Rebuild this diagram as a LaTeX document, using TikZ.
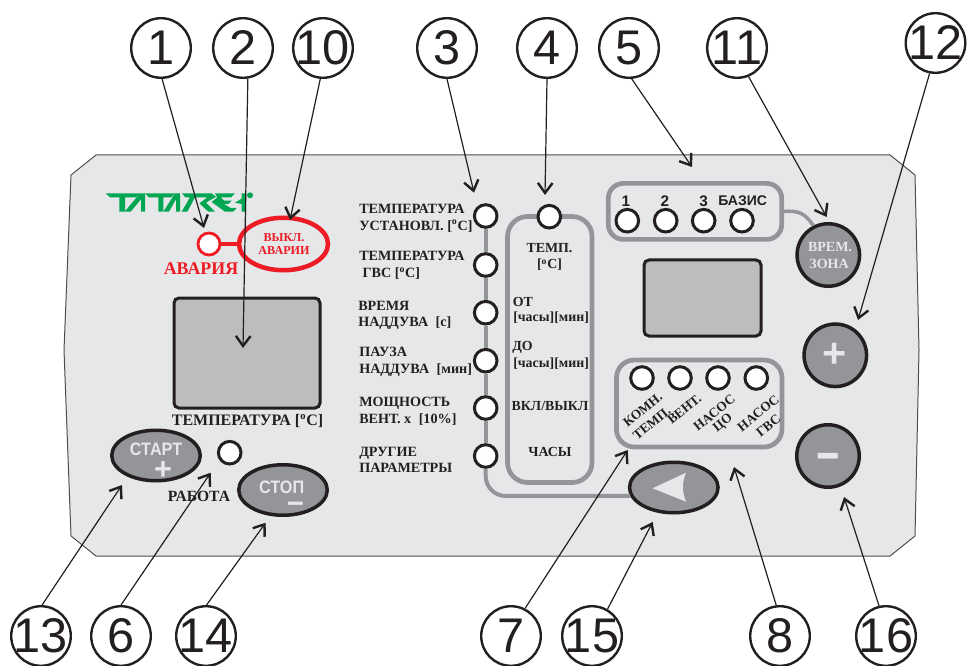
\documentclass[tikz,border=0pt]{standalone}
\usepackage{fontspec}
\setmainfont{Liberation Serif}
\setsansfont{Liberation Sans}
\usetikzlibrary{shapes.geometric,arrows.meta}
\definecolor{ink}{HTML}{231F20}
\definecolor{panelc}{HTML}{E6E7E9}
\definecolor{btn}{HTML}{939598}
\definecolor{disp}{HTML}{BBBDBF}
\definecolor{lite}{HTML}{E6E7E8}
\definecolor{alarm}{HTML}{ED1C24}
\definecolor{logoc}{HTML}{00A651}
\def\pxu{0.75pt}
\newcommand\fsz[1]{\fontsize{#1}{#1}\selectfont}
\tikzset{
  numc/.style={circle,draw=ink,line width=2.4*\pxu,minimum size=59.6*\pxu,inner sep=0pt,text=ink,font=\sffamily\fsz{36.5}},
  ledc/.style={circle,draw=ink,fill=white,line width=3*\pxu,minimum size=22.6*\pxu,inner sep=0pt},
  btne/.style={ellipse,draw=ink,fill=btn,line width=3.5*\pxu,minimum width=88.5*\pxu,minimum height=50.5*\pxu,inner sep=0pt},
  btnc/.style={circle,draw=ink,fill=btn,line width=3.5*\pxu,minimum size=62.5*\pxu,inner sep=0pt},
  dispb/.style={rectangle,rounded corners=5*\pxu,draw=ink,fill=disp,line width=3*\pxu,inner sep=0pt},
  grayb/.style={rectangle,draw=btn,line width=4.7*\pxu,inner sep=0pt},
  grayl/.style={draw=btn,line width=4*\pxu},
  lbl/.style={font=\bfseries\fontsize{10.6}{12.5}\selectfont,text=ink,inner sep=0pt,align=left},
  sml/.style={font=\bfseries\fsz{10.4},text=ink,inner sep=0pt},
  rot/.style={font=\bfseries\fsz{10},text=ink,inner sep=0pt,rotate=39},
  sansb/.style={font=\sffamily\bfseries\fsz{10.5},text=ink,inner sep=0pt},
  lit/.style={font=\sffamily\bfseries,text=lite,inner sep=0pt},
  callout/.style={draw=ink,line width=1.2*\pxu,-{Straight Barb[length=7.5pt,width=11pt,line width=1.8pt]}},
}
\begin{document}
\begin{tikzpicture}[x=0.75pt,y=-0.75pt]
\useasboundingbox (0,0) rectangle (969,666);
% panel
\fill[panelc] (96,155)--(890,155)--(915,175)--(919,350)--(915,536)--(890,556)--(96,556)--(71,536)--(64,350)--(71,175)--cycle;
\draw[draw=ink!80,line width=1*\pxu] (96,155)--(890,155)--(915,175)--(919,350)--(915,536)--(890,556)--(96,556)--(71,536)--(64,350)--(71,175)--cycle;
% logo
\begin{scope}[shift={(100,180)},x=0.25pt,y=-0.25pt]
\fill[logoc] (17,40)--(120,40)--(108,52)--(75,52)--(75,95)--(58,95)--(58,52)--(30,52)--cycle;
\fill[logoc] (120,40)--(135,40)--(135,95)--(123,95)--(123,58)--(92,95)--(74,95)--cycle;
\fill[logoc] (135,40)--(225,40)--(213,52)--(190,52)--(190,95)--(175,95)--(175,52)--(147,52)--cycle;
\fill[logoc] (225,40)--(240,40)--(240,95)--(228,95)--(228,58)--(207,95)--(190,95)--cycle;
\fill[logoc] (246,40)--(335,40)--(348,50)--(318,68)--(345,95)--(325,95)--(298,70)--(322,52)--(285,52)--(262,95)--(245,95)--(270,52)--(256,52)--cycle;
\fill[logoc] (345,40)--(405,40)--(393,52)--(362,52)--(372,62)--(395,62)--(385,72)--(372,72)--(392,84)--(410,84)--(400,95)--(375,95)--(335,66)--(352,52)--cycle;
\fill[logoc] (425,40)--(438,40)--(438,95)--(425,95)--(425,72)--(405,68)--(425,56)--cycle;
\end{scope}
\fill[logoc] (250,195.3) circle[radius=3];
% alarm
\node[circle,draw=alarm,fill=white,line width=2.8*\pxu,minimum size=22*\pxu,inner sep=0pt] (alarmled) at (209,244) {};
\node[ellipse,draw=alarm,line width=4.5*\pxu,minimum width=89*\pxu,minimum height=52.5*\pxu,inner sep=0pt] (alarmbtn) at (283.5,244) {};
\draw[alarm,line width=4*\pxu] (alarmled) -- (alarmbtn);
\node[font=\bfseries\fsz{9.1},text=alarm,inner sep=0pt] (alarmt1) at (284,238) {ВЫКЛ.};
\node[font=\bfseries\fsz{9.1},text=alarm,inner sep=0pt] (alarmt2) at (284,251) {АВАРИИ};
\node[font=\bfseries\fsz{13.4},text=alarm,inner sep=0pt] (alarmt3) at (201,269) {АВАРИЯ};
% left display
\node[dispb,minimum width=146*\pxu,minimum height=110*\pxu] (disp1) at (247,353) {};
\node[font=\bfseries\fsz{12},text=ink,inner sep=0pt] (disp1t) at (247.5,421) {ТЕМПЕРАТУРА [\textsuperscript{o}C]};
% start, stop
\node[btne] (start) at (156,455.5) {};
\node[lit,font=\sffamily\bfseries\fsz{13.5}] (startt) at (156,449) {\scalebox{.9}[1]{СТАРТ}};
\node[lit,font=\sffamily\bfseries\fsz{23}] (startp) at (163,471) {+};
\node[ledc] (work) at (229.7,452.7) {};
\node[font=\bfseries\fsz{11.7},text=ink,inner sep=0pt] (workt) at (199,496) {РАБОТА};
\node[btne] (stop) at (283,490) {};
\node[lit,font=\sffamily\bfseries\fsz{13.5}] (stopt) at (281.7,487) {\scalebox{.9}[1]{СТОП}};
\node[lit,font=\sffamily\bfseries\fsz{22}] (stopm) at (295.5,508) {−};
% middle box
\node[grayb,rounded corners=20*\pxu,minimum width=84.5*\pxu,minimum height=266*\pxu] (mid) at (549.8,349.5) {};
\node[ledc] (mled) at (549.3,216.7) {};
\node[sml] (m1) at (549.5,248) {ТЕМП.};
\node[sml] (m2) at (549.5,265) {[\textsuperscript{o}C]};
\node[sml,anchor=west] (m3) at (512.5,301.7) {ОТ};
\node[sml,anchor=west] (m4) at (513,317.7) {[часы][мин]};
\node[sml,anchor=west] (m5) at (512,347) {ДО};
\node[sml,anchor=west] (m6) at (513,364) {[часы][мин]};
\node[sml] (m7) at (550,406) {ВКЛ/ВЫКЛ};
\node[sml] (m8) at (550,451.7) {ЧАСЫ};
% arrow button
\node[btne] (back) at (673.8,487.5) {};
\fill[lite] (652.7,488.3)--(686,472.7) .. controls (682,482) and (682,492) .. (686,501.7)--cycle;
% left leds
\node[ledc] (l1) at (485.7,216) {};
\node[ledc] (l2) at (485.7,265) {};
\node[ledc] (l3) at (485.7,312.7) {};
\node[ledc] (l4) at (485.7,360.7) {};
\node[ledc] (l5) at (485.7,408) {};
\node[ledc] (l6) at (485.7,456) {};
\draw[grayl] (l1)--(l2);
\draw[grayl] (l2)--(l3);
\draw[grayl] (l3)--(l4);
\draw[grayl] (l4)--(l5);
\draw[grayl] (l5)--(l6);
\draw[grayl,rounded corners=20*\pxu] (l6.south) |- (back.191);
% left labels
\node[lbl,anchor=west] (p1) at (359,218) {ТЕМПЕРАТУРА\\УСТАНОВЛ. [\textsuperscript{o}C]};
\node[lbl,anchor=west] (p2) at (359,265.5) {ТЕМПЕРАТУРА\\\hspace*{2.6pt}ГВС [\textsuperscript{o}C]};
\node[lbl,anchor=west] (p3) at (358,315.5) {ВРЕМЯ\\НАДДУВА\hspace{3pt} [с]};
\node[lbl,anchor=west] (p4) at (359,362) {ПАУЗА\\НАДДУВА\hspace{3pt} [мин]};
\node[lbl,anchor=west] (p5) at (359,411.5) {МОЩНОСТЬ\\ВЕНТ. х\hspace{3pt} [10\%]};
\node[lbl,anchor=west] (p6) at (359,460) {ДРУГИЕ\\ПАРАМЕТРЫ};
% top right box
\node[grayb,rounded corners=15*\pxu,minimum width=173.4*\pxu,minimum height=56*\pxu] (zbox) at (695,211.4) {};
\node[ledc] (z1) at (627.3,220.7) {};
\node[ledc] (z2) at (665.7,220.7) {};
\node[ledc] (z3) at (703.7,220.7) {};
\node[ledc] (z4) at (742,220.7) {};
\node[sansb,font=\sffamily\bfseries\fsz{11.5}] (zt1) at (626,201) {1};
\node[sansb,font=\sffamily\bfseries\fsz{11.5}] (zt2) at (665,201) {2};
\node[sansb,font=\sffamily\bfseries\fsz{11.5}] (zt3) at (703.7,201) {3};
\node[sansb] (zt4) at (742.7,201) {БАЗИС};
\node[btnc] (vrem) at (828.3,255) {};
\draw[draw=btn,line width=3.5*\pxu] (zbox.east) .. controls +(15,-1) and +(-8,-12) .. (vrem.117);
\node[font=\bfseries\fsz{10.5},text=lite,inner sep=0pt] (vt1) at (830,247) {ВРЕМ.};
\node[font=\bfseries\fsz{10.5},text=lite,inner sep=0pt] (vt2) at (829,264) {ЗОНА};
\node[dispb,minimum width=117*\pxu,minimum height=76*\pxu] (disp2) at (702.5,298) {};
% bottom right box
\node[grayb,rounded corners=18*\pxu,minimum width=165.6*\pxu,minimum height=87*\pxu] (obox) at (699.2,403.5) {};
\node[ledc] (o1) at (642,378) {};
\node[ledc] (o2) at (680,378) {};
\node[ledc] (o3) at (718,378) {};
\node[ledc] (o4) at (756.3,378) {};
\node[rot] (ot1) at (642.7,410) {КОМН.};
\node[rot] (ot2) at (651.7,423.3) {ТЕМП.};
\node[rot] (ot3) at (684.3,409.3) {ВЕНТ.};
\node[rot] (ot4) at (714.3,412.7) {НАСОС};
\node[rot] (ot5) at (723.3,423.3) {ЦО};
\node[rot] (ot6) at (758.3,413.3) {НАСОС};
\node[rot] (ot7) at (768.3,426) {ГВС};
% plus, minus
\node[btnc] (plus) at (835.3,355.3) {};
\node[lit,font=\sffamily\bfseries\fsz{31}] (plust) at (835,355.7) {+};
\node[btnc] (minus) at (828,456) {};
\node[lit,font=\sffamily\bfseries\fsz{30}] (minust) at (828,463) {\scalebox{1}[1.3]{−}};
% numbered circles
\node[numc] (c1) at (161,48) {\makebox[0pt]{1}};
\node[numc] (c2) at (243,48) {\makebox[0pt]{2}};
\node[numc] (c10) at (323,48) {\makebox[0pt]{10}};
\node[numc] (c3) at (447,48) {\makebox[0pt]{3}};
\node[numc] (c4) at (547,48) {\makebox[0pt]{4}};
\node[numc] (c5) at (629,48) {\makebox[0pt]{5}};
\node[numc] (c11) at (737,48) {\makebox[0pt]{11}};
\node[numc] (c12) at (935.5,43) {\makebox[0pt]{12}};
\node[numc] (c13) at (41,636) {\makebox[0pt]{13}};
\node[numc] (c6) at (121,636) {\makebox[0pt]{6}};
\node[numc] (c14) at (206,636) {\makebox[0pt]{14}};
\node[numc] (c7) at (511,636) {\makebox[0pt]{7}};
\node[numc] (c15) at (592,636) {\makebox[0pt]{15}};
\node[numc] (c8) at (780,636) {\makebox[0pt]{8}};
\node[numc] (c16) at (886,636) {\makebox[0pt]{16}};
% arrow ends
\coordinate (t1) at (204,228);
\coordinate (t2) at (243,348);
\coordinate (t10) at (290,220);
\coordinate (t3) at (474,192.7);
\coordinate (t4) at (545,195);
\coordinate (t5) at (692,167);
\coordinate (t11) at (826.7,217);
\coordinate (t12) at (858,320);
\coordinate (t13) at (122,485);
\coordinate (t6) at (210.7,472.7);
\coordinate (t14) at (265.7,522.7);
\coordinate (t7) at (627.7,450);
\coordinate (t15) at (652.7,522);
\coordinate (t8) at (734,467);
\coordinate (t16) at (844,497);
\draw[callout] (c1.272)--(t1);
\draw[callout] (c2.279)--(t2);
\draw[callout] (c10.265)--(t10);
\draw[callout] (c3.270)--(t3);
\draw[callout] (c4.270)--(t4);
\draw[callout] (c5.275)--(t5);
\draw[callout] (c11.292)--(t11);
\draw[callout] (c12.259)--(t12);
\draw[callout] (c13.88)--(t13);
\draw[callout] (c6.90)--(t6);
\draw[callout] (c14.89)--(t14);
\draw[callout] (c7.63)--(t7);
\draw[callout] (c15.60)--(t15);
\draw[callout] (c8.97)--(t8);
\draw[callout] (c16.103)--(t16);
\end{tikzpicture}
\end{document}
